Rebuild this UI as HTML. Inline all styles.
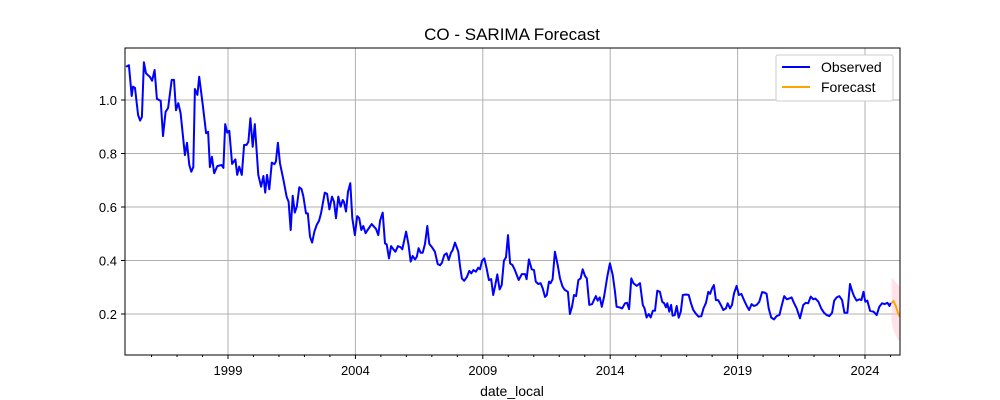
<!DOCTYPE html>
<html><head><meta charset="utf-8"><style>
body{margin:0;background:#fff;}
svg{display:block;font-family:"Liberation Sans","DejaVu Sans",sans-serif;}
</style></head><body>
<svg id="chart" width="1000" height="400" viewBox="0 0 1000 400" xmlns="http://www.w3.org/2000/svg">
<rect width="1000" height="400" fill="#fff"/>
<text x="512" y="40" text-anchor="middle" font-size="17" fill="#000">CO - SARIMA Forecast</text>
<g id="grid"></g>
<g id="plot"></g>
<g id="axes"></g>
<text x="512" y="396" text-anchor="middle" font-size="14" fill="#000">date_local</text>
<g>
<rect x="776" y="55" width="117" height="46" fill="#fff" stroke="#ccc" rx="2"/>
<g><line x1="782" y1="67" x2="810" y2="67" stroke="#0000ff" stroke-width="2"/><text x="821" y="72" font-size="14">Observed</text></g>
<g><line x1="782" y1="87" x2="810" y2="87" stroke="#ffa500" stroke-width="2"/><text x="821" y="92" font-size="14">Forecast</text></g>
</g>
</svg>
<script>
const obsDates=[1995.00,1995.11,1995.22,1995.27,1995.35,1995.47,1995.55,1995.62,1995.70,1995.78,1995.94,1996.02,1996.12,1996.21,1996.36,1996.45,1996.55,1996.65,1996.79,1996.88,1996.96,1997.05,1997.14,1997.31,1997.39,1997.48,1997.56,1997.64,1997.70,1997.80,1997.87,1998.01,1998.14,1998.22,1998.29,1998.37,1998.46,1998.58,1998.75,1998.82,1998.89,1998.97,1999.05,1999.16,1999.29,1999.36,1999.44,1999.54,1999.63,1999.73,1999.80,1999.88,1999.97,2000.05,2000.19,2000.30,2000.39,2000.46,2000.53,2000.62,2000.72,2000.82,2000.88,2000.96,2001.04,2001.17,2001.30,2001.38,2001.46,2001.54,2001.62,2001.70,2001.80,2001.89,2001.96,2002.06,2002.13,2002.22,2002.30,2002.39,2002.48,2002.57,2002.65,2002.80,2002.89,2002.98,2003.08,2003.16,2003.24,2003.33,2003.42,2003.50,2003.55,2003.63,2003.71,2003.80,2003.88,2003.98,2004.07,2004.15,2004.23,2004.31,2004.40,2004.48,2004.64,2004.81,2004.90,2004.97,2005.07,2005.16,2005.23,2005.32,2005.40,2005.49,2005.57,2005.67,2005.78,2005.84,2005.99,2006.08,2006.17,2006.25,2006.34,2006.41,2006.48,2006.56,2006.64,2006.73,2006.82,2006.90,2007.01,2007.12,2007.23,2007.32,2007.40,2007.49,2007.58,2007.66,2007.75,2007.82,2007.91,2008.04,2008.11,2008.18,2008.27,2008.38,2008.47,2008.55,2008.63,2008.73,2008.82,2008.89,2008.97,2009.06,2009.15,2009.24,2009.33,2009.41,2009.49,2009.57,2009.66,2009.74,2009.83,2009.91,2009.99,2010.07,2010.16,2010.26,2010.41,2010.53,2010.66,2010.72,2010.81,2010.92,2011.01,2011.08,2011.18,2011.27,2011.35,2011.44,2011.51,2011.60,2011.66,2011.74,2011.83,2011.94,2012.03,2012.13,2012.22,2012.34,2012.42,2012.50,2012.58,2012.66,2012.75,2012.84,2012.92,2013.01,2013.08,2013.18,2013.29,2013.36,2013.44,2013.51,2013.59,2013.67,2013.76,2013.89,2013.99,2014.10,2014.19,2014.25,2014.36,2014.47,2014.58,2014.66,2014.74,2014.83,2014.91,2015.04,2015.17,2015.28,2015.35,2015.43,2015.51,2015.59,2015.67,2015.76,2015.85,2015.95,2016.04,2016.12,2016.19,2016.24,2016.32,2016.39,2016.45,2016.53,2016.61,2016.69,2016.77,2016.85,2016.98,2017.08,2017.17,2017.26,2017.37,2017.47,2017.58,2017.66,2017.76,2017.85,2017.92,2018.00,2018.07,2018.15,2018.24,2018.34,2018.44,2018.54,2018.61,2018.70,2018.78,2018.86,2018.96,2019.05,2019.15,2019.25,2019.36,2019.45,2019.55,2019.64,2019.75,2019.85,2019.96,2020.06,2020.14,2020.22,2020.32,2020.43,2020.53,2020.64,2020.74,2020.83,2020.93,2021.02,2021.12,2021.21,2021.32,2021.45,2021.58,2021.68,2021.77,2021.87,2021.97,2022.05,2022.17,2022.28,2022.39,2022.50,2022.60,2022.71,2022.79,2022.89,2022.99,2023.10,2023.19,2023.31,2023.41,2023.49,2023.57,2023.67,2023.78,2023.86,2023.94,2024.01,2024.09,2024.20,2024.33,2024.46,2024.56,2024.67,2024.77,2024.88,2024.96,2025.01];
const obsValues=[1.124,1.13,1.015,1.05,1.045,0.944,0.923,0.937,1.141,1.10,1.086,1.072,1.112,1.004,0.997,0.865,0.956,0.97,1.075,1.075,0.962,0.988,0.951,0.794,0.84,0.757,0.732,0.749,1.041,1.019,1.087,0.981,0.876,0.881,0.749,0.788,0.726,0.753,0.757,0.746,0.910,0.878,0.885,0.761,0.778,0.72,0.751,0.72,0.832,0.832,0.844,0.932,0.825,0.91,0.72,0.676,0.716,0.654,0.72,0.666,0.766,0.76,0.77,0.84,0.763,0.704,0.639,0.62,0.514,0.642,0.579,0.601,0.674,0.666,0.639,0.576,0.576,0.489,0.467,0.508,0.533,0.548,0.576,0.654,0.649,0.591,0.639,0.62,0.558,0.639,0.601,0.626,0.62,0.583,0.657,0.689,0.558,0.495,0.566,0.558,0.514,0.529,0.502,0.514,0.536,0.518,0.495,0.549,0.579,0.464,0.46,0.408,0.454,0.442,0.433,0.454,0.449,0.442,0.508,0.462,0.396,0.417,0.404,0.414,0.446,0.429,0.429,0.462,0.529,0.462,0.449,0.433,0.387,0.382,0.392,0.421,0.427,0.402,0.429,0.439,0.467,0.433,0.377,0.333,0.324,0.339,0.361,0.352,0.364,0.358,0.373,0.367,0.399,0.408,0.371,0.327,0.33,0.271,0.308,0.348,0.292,0.308,0.399,0.412,0.495,0.389,0.383,0.364,0.327,0.349,0.349,0.33,0.404,0.367,0.364,0.321,0.312,0.315,0.296,0.264,0.271,0.321,0.315,0.33,0.433,0.383,0.333,0.302,0.29,0.283,0.2,0.227,0.271,0.267,0.327,0.333,0.367,0.342,0.333,0.234,0.237,0.252,0.267,0.25,0.262,0.227,0.265,0.342,0.389,0.346,0.283,0.227,0.225,0.221,0.24,0.242,0.218,0.333,0.315,0.305,0.315,0.234,0.221,0.187,0.2,0.187,0.212,0.212,0.287,0.283,0.246,0.24,0.225,0.24,0.209,0.234,0.194,0.196,0.23,0.186,0.209,0.271,0.273,0.271,0.24,0.215,0.2,0.19,0.192,0.221,0.242,0.283,0.275,0.296,0.308,0.252,0.252,0.234,0.215,0.221,0.24,0.221,0.234,0.277,0.305,0.271,0.275,0.252,0.23,0.215,0.237,0.23,0.234,0.246,0.282,0.28,0.275,0.221,0.187,0.18,0.192,0.196,0.234,0.267,0.255,0.258,0.262,0.242,0.221,0.184,0.234,0.242,0.24,0.265,0.255,0.258,0.246,0.221,0.205,0.196,0.192,0.205,0.25,0.262,0.267,0.252,0.205,0.205,0.312,0.287,0.267,0.25,0.255,0.252,0.283,0.246,0.25,0.212,0.209,0.196,0.227,0.24,0.237,0.242,0.23,0.242];
const fcDates=[2025.04,2025.12,2025.21,2025.29,2025.37];
const fcValues=[0.242,0.248,0.23,0.205,0.19];
const fcLower=[0.17,0.14,0.12,0.105,0.095];
const fcUpper=[0.335,0.33,0.32,0.31,0.30];
const yTicks=[0.2,0.4,0.6,0.8,1.0];
const xTickYears=[1999,2004,2009,2014,2019,2024];

const L=125,R=900,T=48,B=355;
const xS=y=>228+(y-1999)*25.48;
const yS=v=>367.5-v*267.5;
const NS="http://www.w3.org/2000/svg";
function mk(tag,attrs,parent){const e=document.createElementNS(NS,tag);for(const k in attrs)e.setAttribute(k,attrs[k]);parent.appendChild(e);return e;}
const grid=document.getElementById('grid'),plot=document.getElementById('plot'),axes=document.getElementById('axes');

yTicks.forEach(t=>{
 const y=yS(t);
 const g=mk('line',{x1:L,x2:R,y1:y,y2:y,stroke:'#b0b0b0','stroke-width':1},grid);
 
 
 mk('line',{x1:L-4,x2:L,y1:y,y2:y,stroke:'#000'},axes);
 const tx=mk('text',{x:L-8,y:y+5,'text-anchor':'end','font-size':13},axes);
 tx.textContent=t.toFixed(1);
 
 
});
xTickYears.forEach(t=>{
 const x=xS(t);
 const g=mk('line',{x1:x,x2:x,y1:T,y2:B,stroke:'#b0b0b0','stroke-width':1},grid);
 
 
 mk('line',{x1:x,x2:x,y1:B,y2:B+4,stroke:'#000'},axes);
 const tx=mk('text',{x:x,y:B+20,'text-anchor':'middle','font-size':13},axes);
 tx.textContent=t;
 
 
});
for(let yr=1996;yr<=2025;yr++){ if(xTickYears.includes(yr))continue; const x=xS(yr); if(x<L||x>R)continue; mk('line',{x1:x,x2:x,y1:B,y2:B+2,stroke:'#000'},axes);}

const clip=mk('clipPath',{id:'pc'},mk('defs',{},plot));
mk('rect',{x:L,y:T,width:R-L,height:B-T},clip);
const pg=mk('g',{'clip-path':'url(#pc)'},plot);

let bd='';
fcDates.forEach((d,i)=>{bd+=(i?'L':'M')+xS(d).toFixed(1)+','+yS(fcUpper[i]).toFixed(1);});
for(let i=fcDates.length-1;i>=0;i--)bd+='L'+xS(fcDates[i]).toFixed(1)+','+yS(fcLower[i]).toFixed(1);
const band=mk('path',{d:bd+'Z',fill:'#ffc0cb','fill-opacity':0.45},pg);



const op=obsDates.map((d,i)=>(i?'L':'M')+xS(d).toFixed(1)+','+yS(obsValues[i]).toFixed(1)).join('');
const ol=mk('path',{d:op,fill:'none',stroke:'#0000ff','stroke-width':2,'stroke-linejoin':'round'},pg);



const fp=fcDates.map((d,i)=>(i?'L':'M')+xS(d).toFixed(1)+','+yS(fcValues[i]).toFixed(1)).join('');
const fl=mk('path',{d:fp,fill:'none',stroke:'#ffa500','stroke-width':2},pg);



mk('rect',{x:L,y:T,width:R-L,height:B-T,fill:'none',stroke:'#000','stroke-width':1},axes);
</script>
</body></html>
